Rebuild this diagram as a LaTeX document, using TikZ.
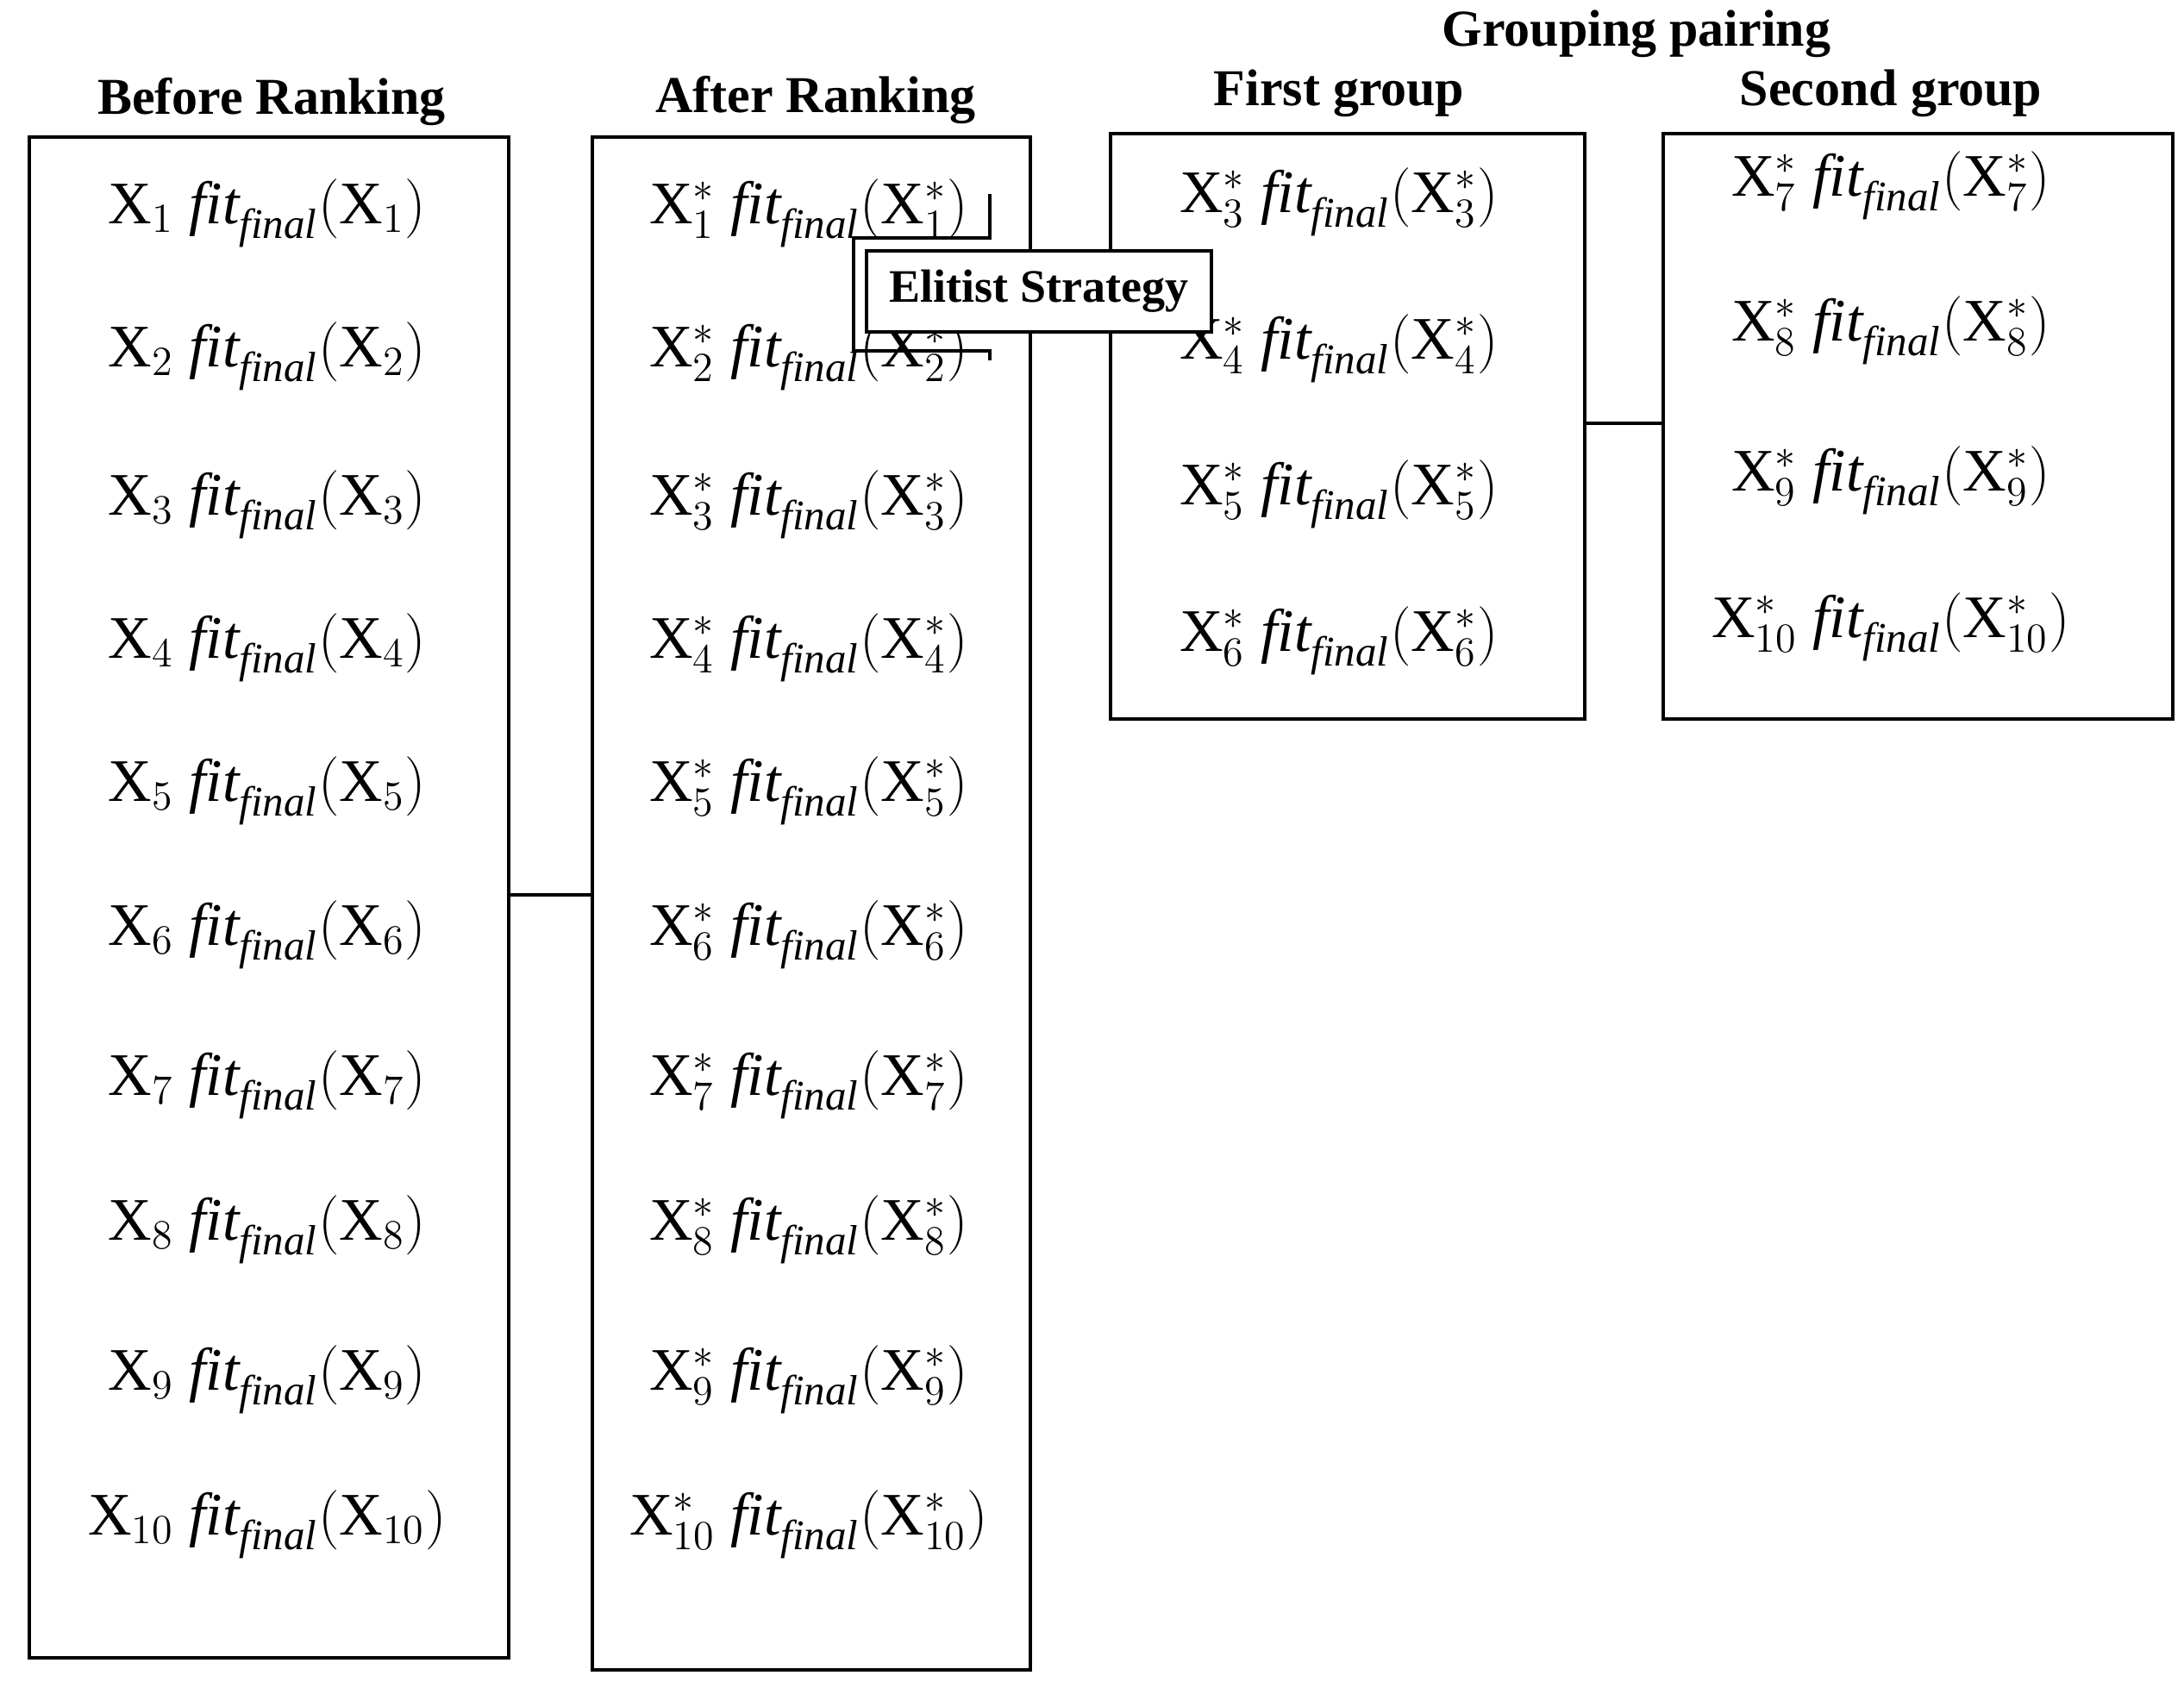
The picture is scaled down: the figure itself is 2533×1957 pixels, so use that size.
\documentclass[tikz,border=0pt]{standalone}
\usepackage{fontspec}
\setmainfont{Liberation Serif}
\begin{document}
\begin{tikzpicture}[x=0.25pt,y=-0.25pt,
 box/.style={draw,line width=1pt},
 hd/.style={font=\bfseries\fontsize{15}{18}\selectfont},
 it/.style={font=\fontsize{17.5}{20}\selectfont}]
\useasboundingbox (0,0) rectangle (2533,1957);
\newcommand\ent[3]{$\mathrm{X}_{#1}#2\ \mathit{fit}_{\mathit{final}}(\mathrm{X}_{#1}#3)$}
\node[box,minimum width=139pt,minimum height=441pt,anchor=north west] (b1) at (32,157) {};
\node[box,minimum width=127pt,minimum height=444.5pt,anchor=north west] (b2) at (685,157) {};
\node[box,minimum width=137.5pt,minimum height=169.75pt,anchor=north west] (b3) at (1286,153) {};
\node[box,minimum width=147.75pt,minimum height=169.75pt,anchor=north west] (b4) at (1927,153) {};
\node[hd] (h1) at (315,118) {Before Ranking};
\node[hd] (h2) at (946,116) {After Ranking};
\node[hd] (h3) at (1898,39) {Grouping pairing};
\node[hd] (h4) at (1553,108) {First group};
\node[hd] (h5) at (2193,108) {Second group};
\foreach \i/\y in {1/247,2/413,3/585,4/751,5/917,6/1084,7/1258,8/1426,9/1600,10/1768}{
  \node[it] (l\i) at (310,\y) {\ent{\i}{}{}};
  \node[it] (r\i) at (938,\y) {\ent{\i}{^{*}}{^{*}}};
}
\foreach \i/\y in {3/234,4/404,5/573,6/743}{\node[it] (g\i) at (1553,\y) {\ent{\i}{^{*}}{^{*}}};}
\foreach \i/\y in {7/215,8/383,9/557,10/727}{\node[it] (s\i) at (2193,\y) {\ent{\i}{^{*}}{^{*}}};}
\coordinate (c1) at (b1.east |- 0,1038);
\draw[line width=1pt] (c1) -- (c1 -| b2.west);
\coordinate (c2) at (b3.east |- 0,491);
\draw[line width=1pt] (c2) -- (c2 -| b4.west);
\coordinate (k1) at (1148,225);
\coordinate (k2) at (1148,276);
\coordinate (k3) at (990,276);
\coordinate (k4) at (990,407);
\coordinate (k5) at (1148,407);
\coordinate (k6) at (1148,418);
\draw[line width=1pt] (k1) -- (k2) -- (k3) -- (k4) -- (k5) -- (k6);
\node[box,fill=white,minimum width=100pt,minimum height=23.5pt,anchor=north west] (es) at (1003,289) {};
\node[font=\bfseries\fontsize{13.5}{16}\selectfont] (est) at (es.center) {Elitist Strategy};
\end{tikzpicture}
\end{document}
